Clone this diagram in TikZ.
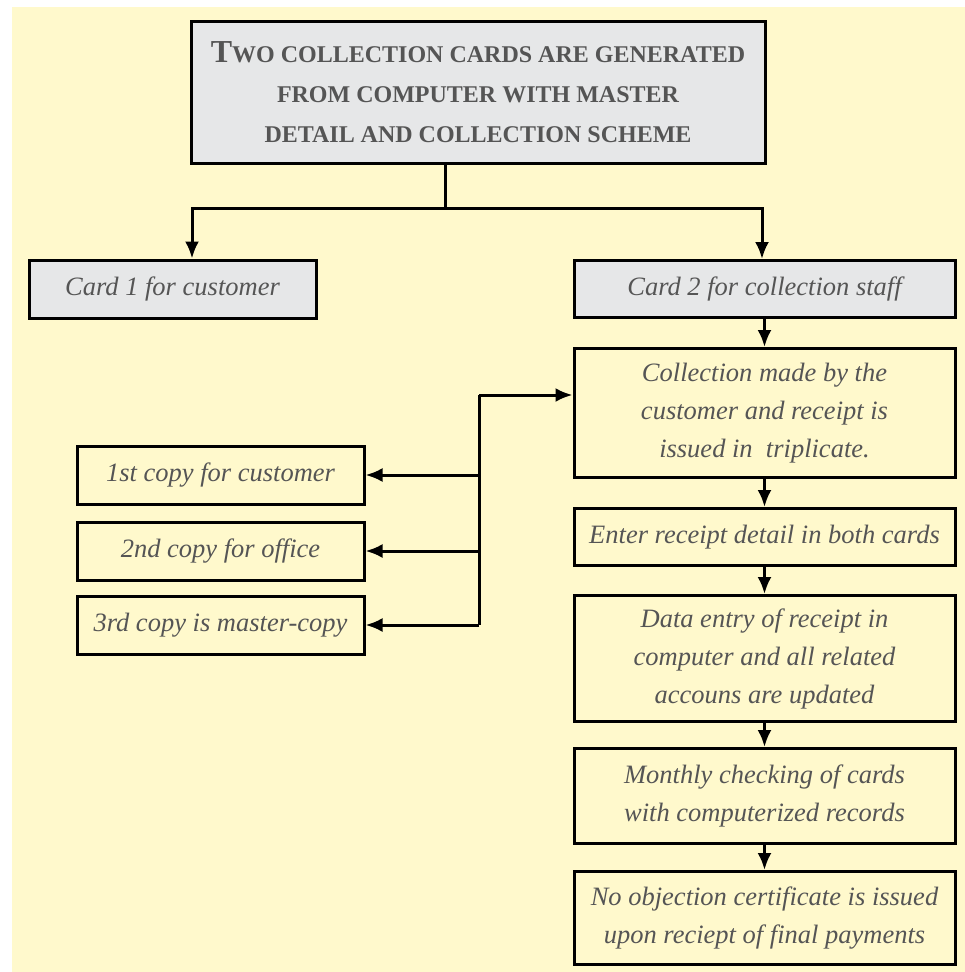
\documentclass[tikz,border=0pt]{standalone}
\usepackage{fontspec}
\setmainfont{Liberation Serif}[ItalicFont={Liberation Serif Italic},BoldFont={Liberation Serif Bold}]
\usepackage{tikz}
\usetikzlibrary{positioning,arrows.meta,calc}

\definecolor{paper}{HTML}{FFF9CC}
\definecolor{cardgrey}{HTML}{E6E7E8}
\definecolor{ink}{HTML}{555555}

\newcommand\cardfont{\fontsize{26.5}{38}\selectfont\itshape}
\newcommand\headfont{\fontsize{24}{40}\selectfont\bfseries}
\newcommand\headinitial[1]{{\fontsize{32}{40}\selectfont #1}}

\begin{document}
\begin{tikzpicture}[
x=1pt, y=-1pt,
cardbox/.style={
  draw,
  line width=3pt,
  fill=paper,
  text=ink,
  font=\cardfont,
  align=center,
  inner sep=2pt,
  minimum width=381pt,
  minimum height=57pt},
greybox/.style={
  cardbox,
  fill=cardgrey},
copybox/.style={
  cardbox,
  minimum width=287pt,
  minimum height=58pt},
link/.style={
  line width=3pt},
arr/.style={
  link,
  -{Latex[length=17pt,width=14pt]}}
]
\useasboundingbox (0,0) rectangle (965,972);
\fill[paper] (12,7) rectangle (965,972);

% top of the chart
\node[greybox, font=\headfont, minimum width=574pt, minimum height=142pt] (head) at (478,92)
  {\headinitial{T}WO COLLECTION CARDS ARE GENERATED\\
   FROM COMPUTER WITH MASTER\\
   DETAIL AND COLLECTION SCHEME};
\node[greybox, minimum width=287pt, minimum height=58pt] (card1) at (172.5,289) {Card 1 for customer};
\node[greybox] (card2) at (764.5,289) {Card 2 for collection staff};

% right column
\node[cardbox, minimum height=129pt, below=28pt of card2] (coll)
  {Collection made by the\\ customer and receipt is\\ issued in\ \ triplicate.};
\node[cardbox, below=28pt of coll] (enter) {Enter receipt detail in both cards};
\node[cardbox, minimum height=126pt, below=27pt of enter] (dataent)
  {Data entry of receipt in\\ computer and all related\\ accouns are updated};
\node[cardbox, minimum height=95pt, below=24pt of dataent] (monthly)
  {Monthly checking of cards\\ with computerized records};
\node[cardbox, minimum height=93pt, below=25pt of monthly] (noobj)
  {No objection certificate is issued\\ upon reciept of final payments};

% left column
\node[copybox] (copy1) at (220.5,475) {1st copy for customer};
\node[copybox, below=15pt of copy1] (copy2) {2nd copy for office};
\node[copybox, below=13pt of copy2] (copy3) {3rd copy is master-copy};

% connectors
\coordinate (split) at (445,208);
\coordinate (lbranch) at (192,208);
\coordinate (rbranch) at (762,208);
\draw[link] (head.south -| split) -- (split);
\draw[arr] (split) -- (lbranch) -- (lbranch |- card1.north);
\draw[arr] (split) -- (rbranch) -- (rbranch |- card2.north);

\draw[arr] (card2) -- (coll);
\draw[arr] (coll) -- (enter);
\draw[arr] (enter) -- (dataent);
\draw[arr] (dataent) -- (monthly);
\draw[arr] (monthly) -- (noobj);

\coordinate (bus) at (479,395);
\draw[arr] (bus) -- (bus -| coll.west);
\draw[link] (bus) -- (bus |- copy3.east);
\foreach \Copy in {copy1,copy2,copy3}
  \draw[arr] (bus |- \Copy.east) -- (\Copy.east);
\end{tikzpicture}
\end{document}
